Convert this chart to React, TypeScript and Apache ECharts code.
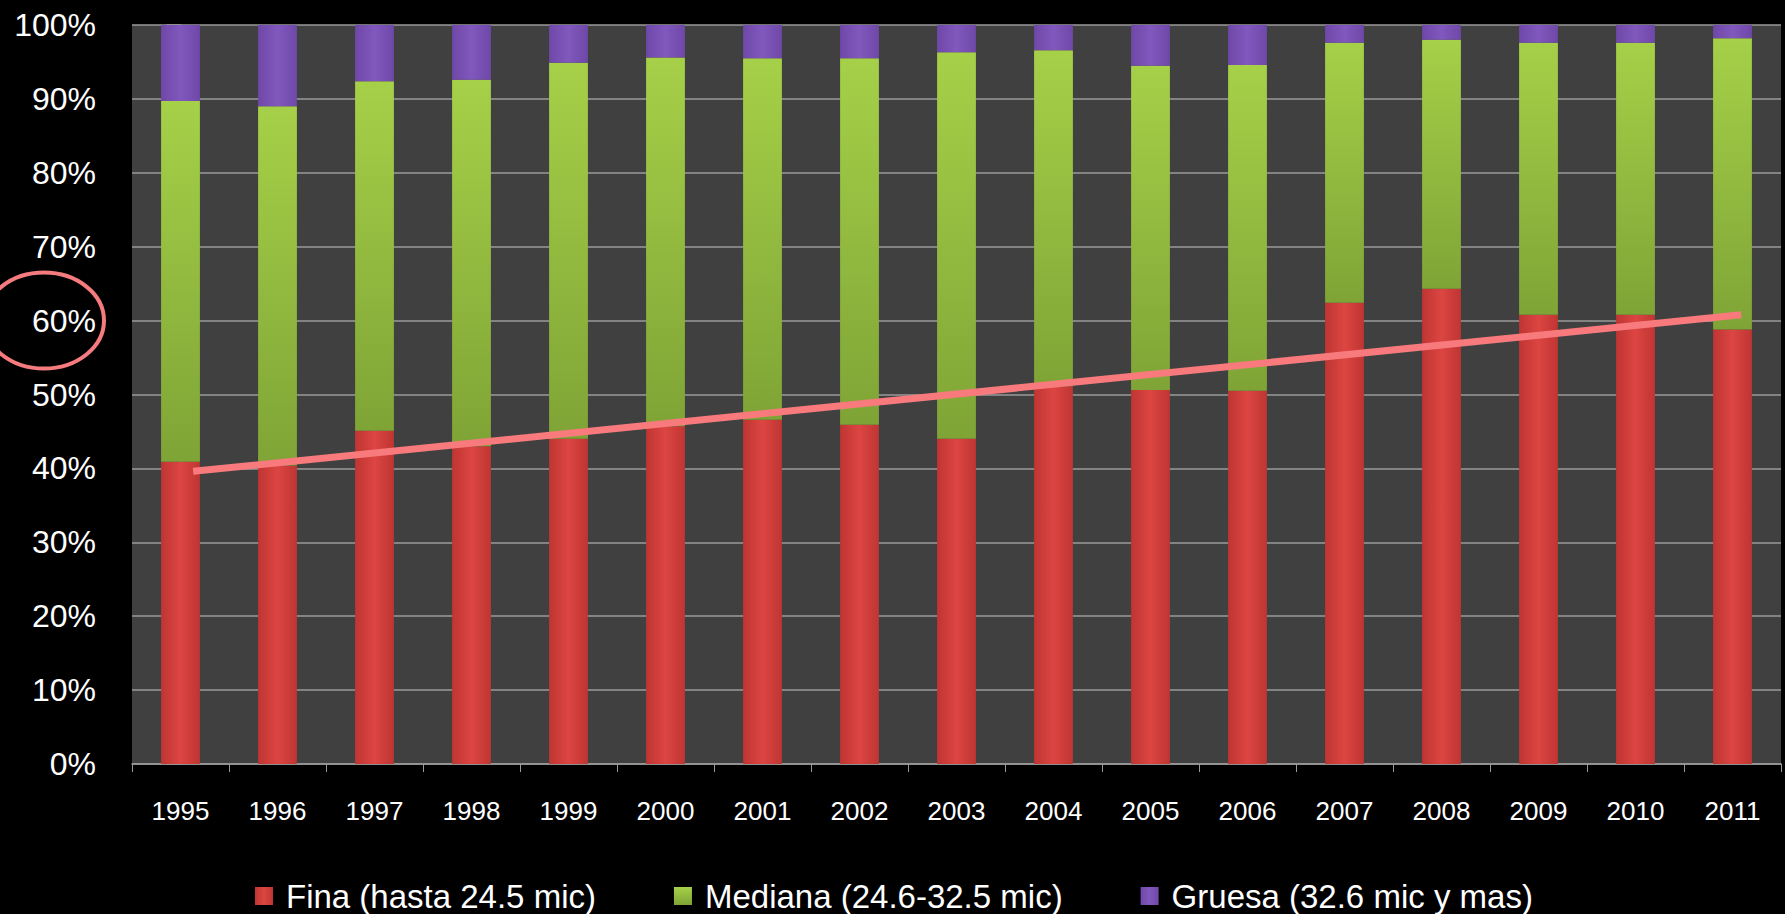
import React, { useEffect, useRef } from "react";
import * as echarts from "echarts";

const years = ["1995", "1996", "1997", "1998", "1999", "2000", "2001", "2002", "2003", "2004", "2005", "2006", "2007", "2008", "2009", "2010", "2011"];
const fina = [40.9, 40.4, 45.1, 43.0, 44.0, 45.7, 46.6, 45.9, 44.0, 51.1, 50.6, 50.5, 62.4, 64.3, 60.8, 60.8, 58.8];
const mediana = [48.8, 48.6, 47.3, 49.6, 50.9, 49.9, 48.9, 49.6, 52.3, 45.5, 43.9, 44.1, 35.2, 33.7, 36.8, 36.8, 39.4];
const gruesa = [10.3, 11.0, 7.6, 7.4, 5.1, 4.4, 4.5, 4.5, 3.7, 3.4, 5.5, 5.4, 2.4, 2.0, 2.4, 2.4, 1.8];
const seriesNames = ["Fina (hasta 24.5 mic)", "Mediana (24.6-32.5 mic)", "Gruesa (32.6 mic y mas)"];
// trend line end points (category index position, percent)
const trendX = [0.13, 16.09];
const trendY = [39.6, 60.8];

const FONT = "'Liberation Sans', Arial, sans-serif";

export default function App() {
  const ref = useRef<HTMLDivElement>(null);

  useEffect(() => {
    document.body.style.background = "#000";
    const chart = echarts.init(ref.current!, null, { renderer: "svg" });
    const hGrad = (edge: string, mid: string) =>
      new echarts.graphic.LinearGradient(0, 0, 1, 0, [
        { offset: 0, color: edge },
        { offset: 0.5, color: mid },
        { offset: 1, color: edge },
      ]);
    const option: any = {
      animation: false,
      backgroundColor: "#000000",
      textStyle: { fontFamily: FONT },
      grid: {
        left: 132,
        right: 4,
        top: 25,
        bottom: 150,
        show: true,
        backgroundColor: "#404040",
        borderWidth: 0,
      },
      legend: {
        left: 255,
        top: 879,
        padding: 0,
        itemWidth: 18,
        itemHeight: 18,
        itemGap: 78,
        icon: "rect",
        data: seriesNames,
        textStyle: { color: "#ffffff", fontSize: 33, lineHeight: 34, fontFamily: FONT, padding: [0, 0, 0, 8] },
      },
      xAxis: [
        {
          type: "category",
          data: years,
          axisLine: { lineStyle: { color: "#9a9a9a", width: 1.5 } },
          axisTick: { show: true, length: 8, lineStyle: { color: "#9a9a9a" } },
          axisLabel: { color: "#ffffff", fontSize: 26, margin: 34, fontFamily: FONT },
          splitLine: { show: false },
        },
        {
          type: "value",
          min: -0.5,
          max: 16.5,
          show: false,
        },
      ],
      yAxis: {
        type: "value",
        min: 0,
        max: 100,
        interval: 10,
        axisLine: { show: true, lineStyle: { color: "#9a9a9a", width: 1.5 } },
        axisTick: { show: true, length: 14, lineStyle: { color: "#9a9a9a", width: 1.5 } },
        axisLabel: { color: "#ffffff", fontSize: 32, margin: 36, fontFamily: FONT, formatter: "{value}%" },
        splitLine: { show: true, lineStyle: { color: "#9a9a9a", width: 1.5 } },
      },
      series: [
        {
          name: seriesNames[0],
          type: "bar",
          stack: "total",
          barWidth: "40%",
          data: fina,
          itemStyle: { color: hGrad("#bf3532", "#dc4542") },
        },
        {
          name: seriesNames[1],
          type: "bar",
          stack: "total",
          barWidth: "40%",
          data: mediana,
          itemStyle: {
            color: new echarts.graphic.LinearGradient(0, 0, 0, 1, [
              { offset: 0, color: "#a6d048" },
              { offset: 1, color: "#7fa436" },
            ]),
          },
        },
        {
          name: seriesNames[2],
          type: "bar",
          stack: "total",
          barWidth: "40%",
          data: gruesa,
          itemStyle: { color: hGrad("#6e48a8", "#8158bd") },
        },
        {
          name: "trend",
          type: "line",
          xAxisIndex: 1,
          data: trendX.map((x, i) => [x, trendY[i]]),
          symbol: "none",
          lineStyle: { color: "#f87a7d", width: 7 },
          z: 5,
        },
      ],
    };
    chart.setOption(option);
    const cy = chart.convertToPixel({ yAxisIndex: 0 }, 60) as number;
    chart.setOption({
      graphic: [
        {
          type: "ellipse",
          shape: { cx: 44, cy: cy, rx: 60, ry: 48 },
          style: { fill: "none", stroke: "#f57b7e", lineWidth: 4 },
          z: 10,
        },
      ],
    });
    return () => chart.dispose();
  }, []);

  return (
    <div
      ref={ref}
      style={{ position: "absolute", left: 0, top: 0, width: 1785, height: 914, background: "#000" }}
    />
  );
}
